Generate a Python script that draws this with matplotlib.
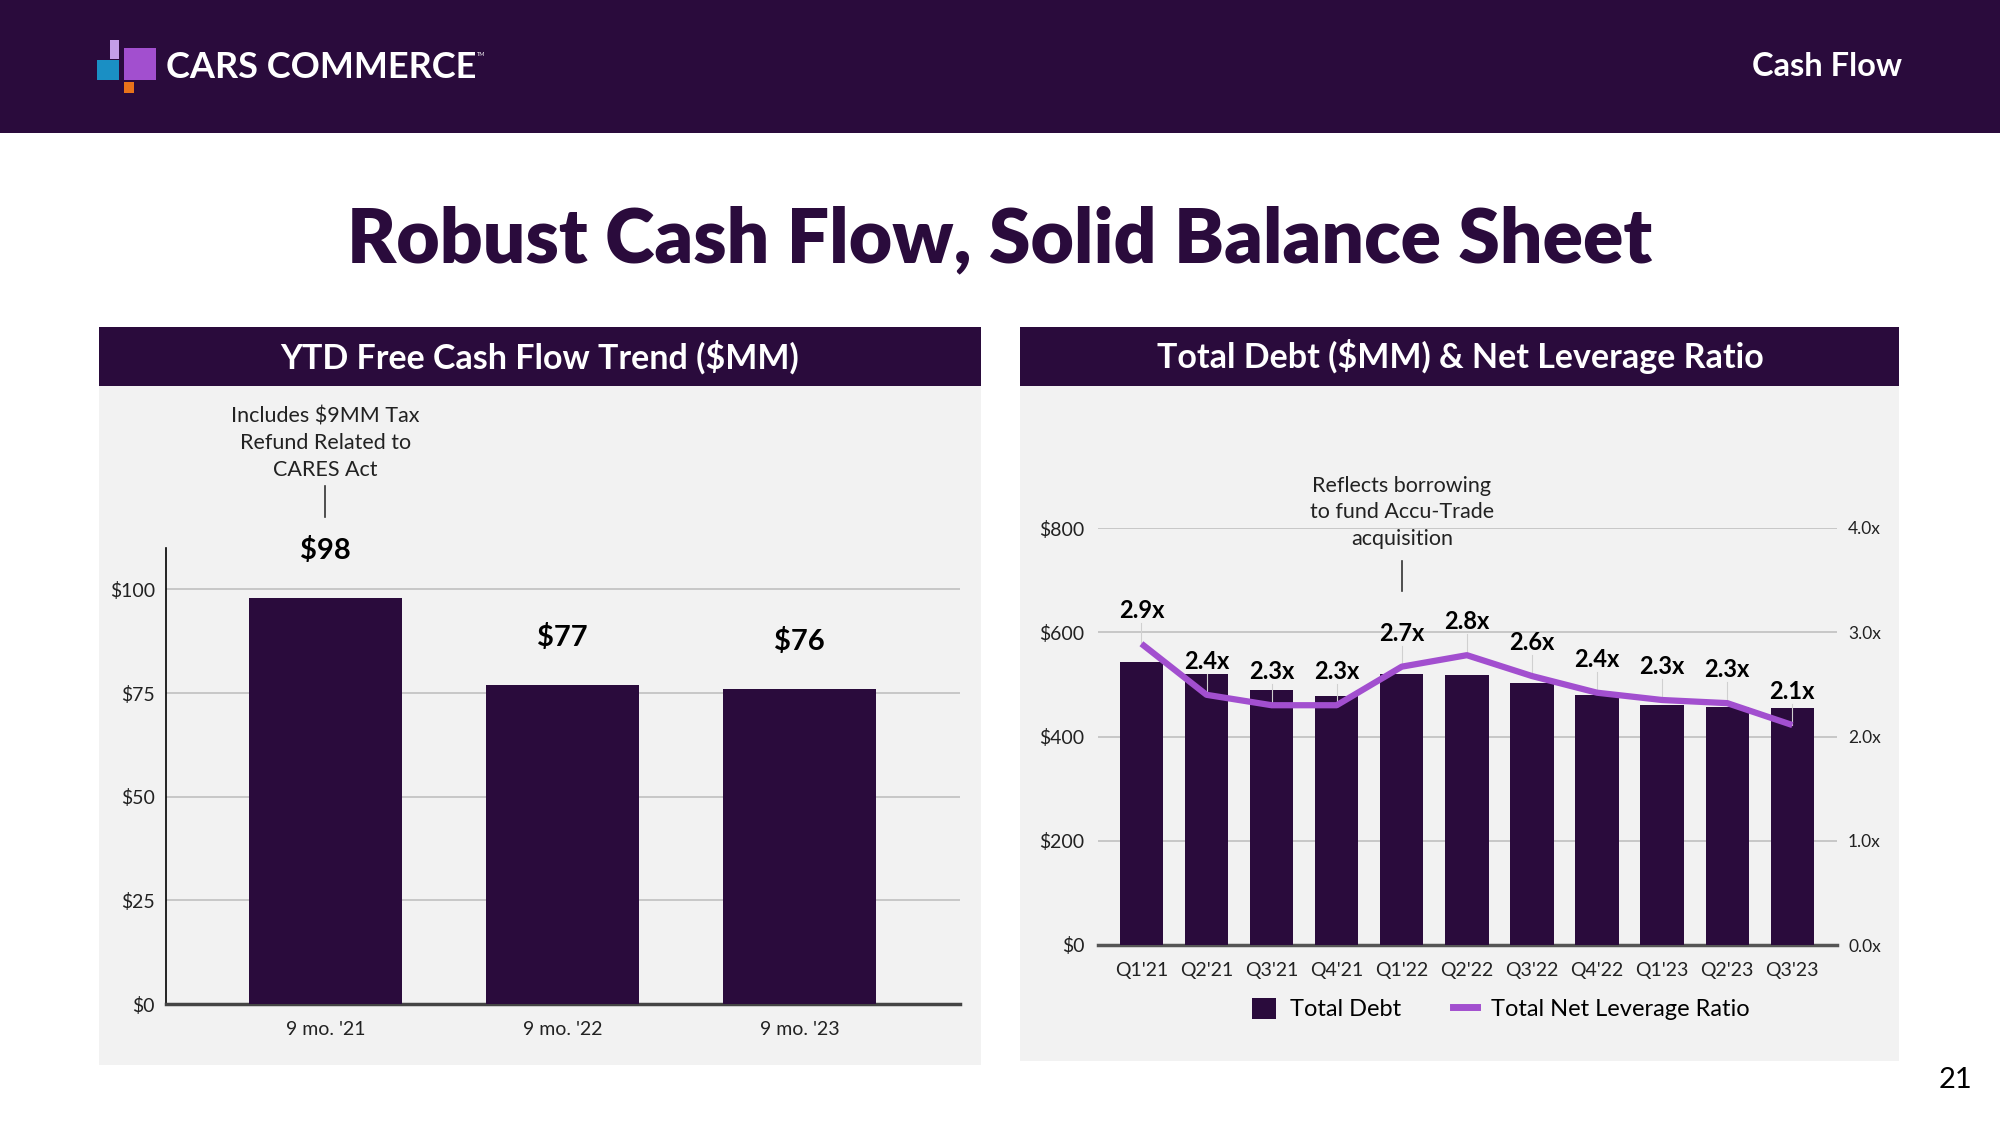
import matplotlib
matplotlib.use('Agg')
import matplotlib.pyplot as plt
from matplotlib.patches import Rectangle, Patch
from matplotlib.lines import Line2D

# data
fcf_periods = ["9 mo. '21", "9 mo. '22", "9 mo. '23"]
fcf_values = [98, 77, 76]
fcf_labels = ['$98', '$77', '$76']

quarters = ["Q1'21", "Q2'21", "Q3'21", "Q4'21", "Q1'22", "Q2'22",
            "Q3'22", "Q4'22", "Q1'23", "Q2'23", "Q3'23"]
total_debt = [543, 520, 489, 477, 520, 518, 502, 480, 460, 457, 454]
leverage = [2.89, 2.40, 2.30, 2.30, 2.67, 2.78, 2.58, 2.42, 2.35, 2.32, 2.11]
leverage_labels = ['2.9x', '2.4x', '2.3x', '2.3x', '2.7x', '2.8x',
                   '2.6x', '2.4x', '2.3x', '2.3x', '2.1x']

debt_ticks = [0, 200, 400, 600, 800]
ratio_ticks = [0, 1, 2, 3, 4]
fcf_ticks = [0, 25, 50, 75, 100]

W, H = 2000, 1125
PURPLE = '#2a0b3c'
LINE = '#a24fcf'
PANEL = '#f2f2f2'
GRID = '#c4c4c4'

plt.rcParams['font.family'] = ['Lato', 'DejaVu Sans']

fig = plt.figure(figsize=(20, 11.25), dpi=100)


def box(x0, y0, x1, y1):
    # pixel box (origin top-left) -> [left, bottom, width, height] in figure fraction
    return [x0 / W, 1 - y1 / H, (x1 - x0) / W, (y1 - y0) / H]


def rect(x0, y0, x1, y1, color):
    l, b, w, h = box(x0, y0, x1, y1)
    fig.patches.append(Rectangle((l, b), w, h, transform=fig.transFigure,
                                 facecolor=color, edgecolor='none', zorder=-5))


def ftext(x, y, s, **kw):
    return fig.text(x / W, 1 - y / H, s, **kw)


# header band + logo
rect(0, 0, W, 133, PURPLE)
rect(110, 40, 119, 59, '#c39ee8')
rect(97, 60, 119, 80, '#1a8fc4')
rect(124, 48, 156, 80, '#a24fcf')
rect(124, 82, 134, 93, '#e8731a')
ftext(166, 67, 'CARS COMMERCE', color='white', fontsize=26, fontweight='bold',
      ha='left', va='center')
ftext(477, 55, 'TM', color='white', fontsize=4, ha='left', va='center')
ftext(1902, 66, 'Cash Flow', color='white', fontsize=23.5, fontweight='bold',
      ha='right', va='center')

# title
ftext(1000, 240, 'Robust Cash Flow, Solid Balance Sheet', color=PURPLE,
      fontsize=54, fontweight='heavy', ha='center', va='center')

# panels
rect(99, 327, 981, 386, PURPLE)
rect(99, 386, 981, 1065, PANEL)
rect(1020, 327, 1899, 386, PURPLE)
rect(1020, 386, 1899, 1061, PANEL)
ftext(540, 357, 'YTD Free Cash Flow Trend ($MM)', color='white', fontsize=24.5,
      fontweight='bold', ha='center', va='center')
ftext(1460, 357, 'Total Debt ($MM) & Net Leverage Ratio', color='white', fontsize=24.5,
      fontweight='bold', ha='center', va='center')

# left chart: free cash flow
ax1 = fig.add_axes(box(166, 548, 960, 1004))
ax1.set_facecolor('none')
x1 = range(len(fcf_values))
ax1.bar(x1, fcf_values, width=0.645, color=PURPLE, zorder=3)
ax1.set_xlim(-0.672, 2.677)
ax1.set_ylim(0, 110)
ax1.set_yticks(fcf_ticks)
ax1.set_yticklabels([f'${v}' for v in fcf_ticks])
ax1.set_xticks(list(x1))
ax1.set_xticklabels(fcf_periods)
ax1.yaxis.grid(True, color=GRID, lw=1.3, zorder=0)
ax1.set_axisbelow(True)
for s in ['top', 'right']:
    ax1.spines[s].set_visible(False)
ax1.spines['left'].set_color('black')
ax1.spines['left'].set_linewidth(1.2)
ax1.spines['bottom'].set_color('#444444')
ax1.spines['bottom'].set_linewidth(2.5)
ax1.tick_params(length=0, labelsize=14, colors='#222222')
ax1.tick_params(axis='x', pad=12)
ax1.tick_params(axis='y', pad=8)
for i, v in enumerate(fcf_values):
    ax1.text(i, v + 11.4, fcf_labels[i], ha='center', va='center', fontsize=21,
             fontweight='bold', color='black')
ax1.text(0, 126.5, 'Includes $9MM Tax\nRefund Related to\nCARES Act', ha='center',
         va='bottom', fontsize=15.5, linespacing=1.4, color='#222222', clip_on=False)
ax1.plot([0, 0], [117.5, 125], color='#333333', lw=1.2, clip_on=False)

# right chart: total debt + leverage
ax2 = fig.add_axes(box(1098, 528, 1837, 945))
ax2.set_facecolor('none')
x2 = range(len(total_debt))
ax2.bar(x2, total_debt, width=0.667, color=PURPLE, zorder=3)
ax2.set_xlim(-0.667, 10.686)
ax2.set_ylim(0, 800)
ax2.set_yticks(debt_ticks)
ax2.set_yticklabels([f'${v}' for v in debt_ticks])
ax2.set_xticks(list(x2))
ax2.set_xticklabels(quarters)
ax2.yaxis.grid(True, color=GRID, lw=1.3, zorder=0)
ax2.set_axisbelow(True)
for s in ['top', 'right', 'left']:
    ax2.spines[s].set_visible(False)
ax2.spines['bottom'].set_color('#555555')
ax2.spines['bottom'].set_linewidth(2.5)
ax2.tick_params(length=0, labelsize=14, colors='#222222')
ax2.tick_params(axis='x', pad=12)
ax2.tick_params(axis='y', pad=10)
ax2.text(4, 760, 'Reflects borrowing\nto fund Accu-Trade\nacquisition', ha='center',
         va='bottom', fontsize=15.5, linespacing=1.4, color='#222222', clip_on=False)
ax2.plot([4, 4], [679, 737], color='#333333', lw=1.2, clip_on=False)

ax3 = ax2.twinx()
ax3.set_ylim(0, 4)
ax3.set_yticks(ratio_ticks)
ax3.set_yticklabels([f'{v:.1f}x' for v in ratio_ticks])
for s in ax3.spines.values():
    s.set_visible(False)
ax3.tick_params(length=0, labelsize=12.5, colors='#222222', pad=8)
for i, r in enumerate(leverage):
    ax3.plot([i, i], [r, r + 0.2], color='#d0d0d0', lw=0.8, zorder=1)
ax3.plot(list(x2), leverage, color=LINE, lw=4.5, zorder=4, solid_capstyle='butt')
for i, r in enumerate(leverage):
    ax3.text(i, r + 0.32, leverage_labels[i], ha='center', va='center', fontsize=17,
             fontweight='bold', color='black')

handles = [Patch(facecolor=PURPLE, label='Total Debt'),
           Line2D([], [], color=LINE, lw=5, label='Total Net Leverage Ratio')]
fig.legend(handles=handles, loc='center', bbox_to_anchor=(0.7505, 1 - 1009 / H),
           ncol=2, frameon=False, fontsize=17, handlelength=1.0, handleheight=1.0,
           columnspacing=2.2, handletextpad=0.6)

# page number
ftext(1956, 1080, '21', fontsize=21, color='black', ha='center', va='center')

fig.savefig('out.png', dpi=100)
